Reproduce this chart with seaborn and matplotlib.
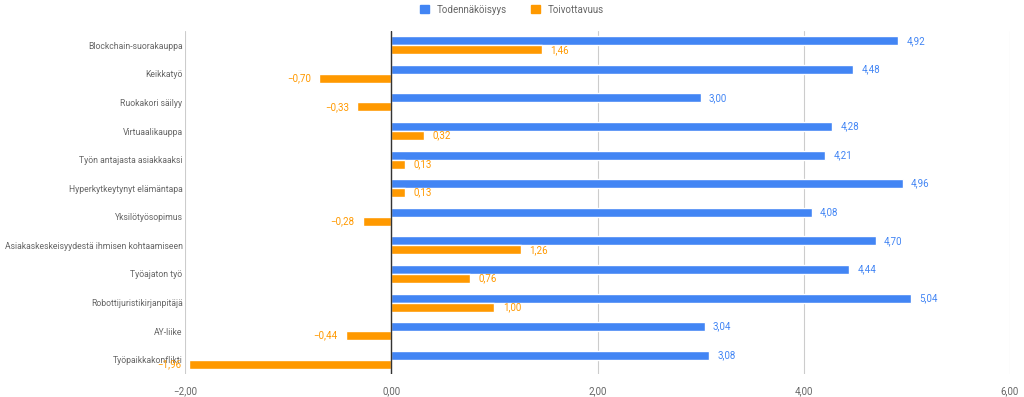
import numpy as np
import pandas as pd
import seaborn as sns
import matplotlib
matplotlib.use("Agg")
import matplotlib.pyplot as plt
from matplotlib.ticker import FuncFormatter

# chart data
categories = [
    "Blockchain-suorakauppa", "Keikkatyö", "Ruokakori säilyy", "Virtuaalikauppa",
    "Työn antajasta asiakkaaksi", "Hyperkytkeytynyt elämäntapa", "Yksilötyösopimus",
    "Asiakaskeskeisyydestä ihmisen kohtaamiseen", "Työajaton työ",
    "Robottijuristikirjanpitäjä", "AY-liike", "Työpaikkakonflikti",
]
todennakoisyys = [4.92, 4.48, 3.00, 4.28, 4.21, 4.96, 4.08, 4.70, 4.44, 5.04, 3.04, 3.08]
toivottavuus = [1.46, -0.70, -0.33, 0.32, 0.13, 0.13, -0.28, 1.26, 0.76, 1.00, -0.44, -1.96]
series_names = ["Todennäköisyys", "Toivottavuus"]
x_ticks = [-2, 0, 2, 4, 6]

BLUE = "#4285f4"
ORANGE = "#ff9900"
GREY = "#666666"

df = pd.DataFrame({
    "kategoria": categories * 2,
    "arvo": todennakoisyys + toivottavuus,
    "sarja": [series_names[0]] * len(categories) + [series_names[1]] * len(categories),
})

sns.set_theme(style="white")
plt.rcParams["font.family"] = ["Roboto", "DejaVu Sans"]

fig = plt.figure(figsize=(10.24, 3.97), dpi=100)
ax = fig.add_axes([0.181, 0.058, 0.805, 0.864])

sns.barplot(data=df, y="kategoria", x="arvo", hue="sarja", orient="h",
            palette=[BLUE, ORANGE], width=0.63, ax=ax, legend=False,
            saturation=1)

def fmt(v):
    return f"{v:.2f}".replace(".", ",").replace("-", "\u2212")

for cont, col in zip(ax.containers, [BLUE, ORANGE]):
    vals = [r.get_width() for r in cont]
    ax.bar_label(cont, labels=[fmt(v) for v in vals], padding=6,
                 color=col, fontsize=7)

ax.set_xlim(-2, 6)
ax.set_xticks(x_ticks)
ax.xaxis.set_major_formatter(FuncFormatter(lambda v, p: fmt(v)))
ax.grid(axis="x", color="#cccccc", linewidth=0.8)
ax.set_axisbelow(True)
ax.axvline(0, color="#333333", linewidth=1, zorder=3)
for s in ax.spines.values():
    s.set_visible(False)
ax.tick_params(axis="both", length=0, labelsize=7, colors=GREY)
ax.tick_params(axis="y", pad=2, labelsize=6.2)
ax.tick_params(axis="x", pad=9)
ax.set_xlabel("")
ax.set_ylabel("")

handles = [plt.Rectangle((0, 0), 1, 1, color=c) for c in [BLUE, ORANGE]]
fig.legend(handles, series_names, loc="upper center", ncol=2, frameon=False,
           bbox_to_anchor=(0.5, 1.01), fontsize=7, handlelength=0.9,
           handleheight=0.9, columnspacing=2.5, labelcolor=GREY)

fig.savefig("out.png", dpi=100)
